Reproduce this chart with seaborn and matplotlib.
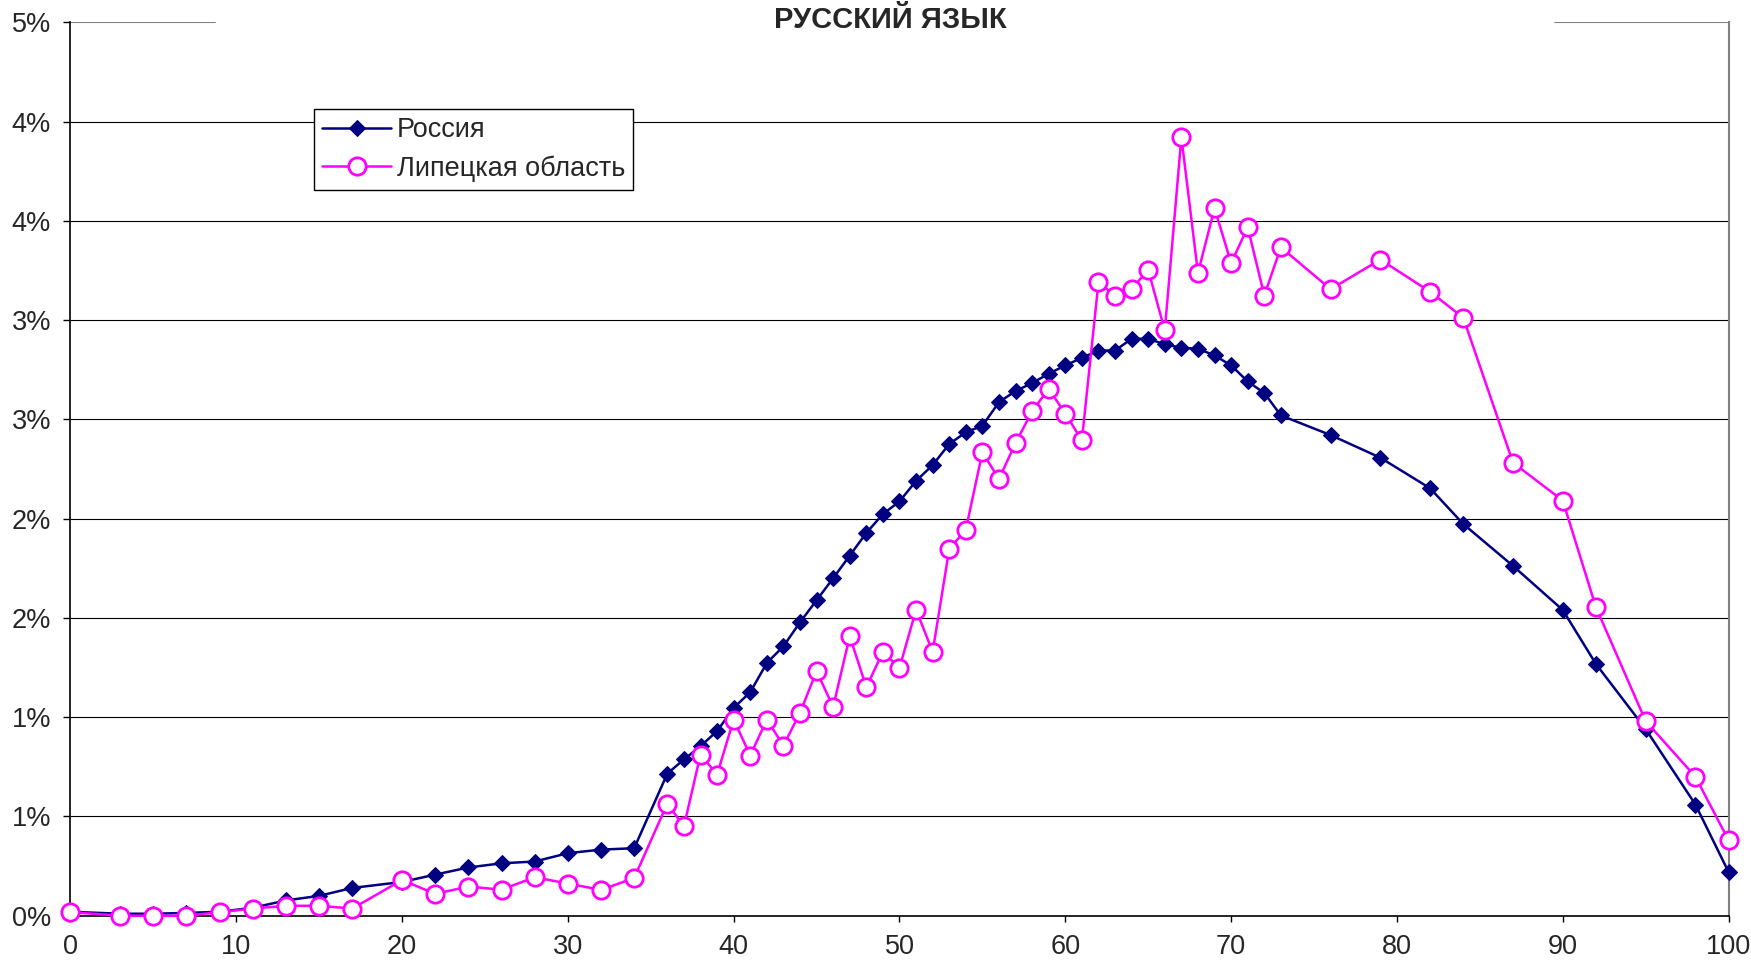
import math
import numpy as np
import pandas as pd
import matplotlib
matplotlib.use("Agg")
import matplotlib.pyplot as plt
from matplotlib.ticker import FuncFormatter
import seaborn as sns

# data: score (x) and share of participants, %
russia_x = [0, 3, 5, 7, 9, 11, 13, 15, 17, 20, 22, 24, 26, 28, 30, 32, 34,
            36, 37, 38, 39, 40, 41, 42, 43, 44, 45, 46, 47, 48, 49, 50,
            51, 52, 53, 54, 55, 56, 57, 58, 59, 60, 61, 62, 63, 64, 65,
            66, 67, 68, 69, 70, 71, 72, 73, 76, 79, 82, 84, 87, 90, 92,
            95, 98, 100]
russia_y = [0.02, 0.01, 0.01, 0.014, 0.02, 0.04, 0.077, 0.10, 0.14, 0.17, 0.207,
            0.243, 0.264, 0.273, 0.315, 0.333, 0.34,
            0.716, 0.787, 0.854, 0.93, 1.047, 1.126, 1.273, 1.357, 1.478, 1.589,
            1.70, 1.814, 1.928, 2.023, 2.087, 2.19, 2.27, 2.376, 2.435, 2.468,
            2.587, 2.643, 2.683, 2.73, 2.772, 2.81, 2.847, 2.847, 2.906, 2.906,
            2.878, 2.861, 2.856, 2.822, 2.772, 2.691, 2.633, 2.52, 2.421, 2.307,
            2.153, 1.973, 1.762, 1.54, 1.268, 0.94, 0.56, 0.22]

lipetsk_x = russia_x
lipetsk_y = [0.018, 0.0, 0.0, 0.0, 0.018, 0.036, 0.05, 0.05, 0.036, 0.18, 0.11,
             0.147, 0.131, 0.194, 0.162, 0.13, 0.19,
             0.565, 0.45, 0.812, 0.711, 0.988, 0.807, 0.988, 0.857, 1.022, 1.232,
             1.052, 1.408, 1.151, 1.329, 1.248, 1.542, 1.329, 1.847, 1.945, 2.334,
             2.20, 2.381, 2.542, 2.654, 2.529, 2.395, 3.19, 3.124, 3.158, 3.253,
             2.948, 3.921, 3.238, 3.564, 3.287, 3.468, 3.124, 3.367, 3.156, 3.305,
             3.143, 3.012, 2.282, 2.091, 1.554, 0.98, 0.70, 0.38]

x_ticks = [0, 10, 20, 30, 40, 50, 60, 70, 80, 90, 100]
y_ticks = [0, 0.5, 1.0, 1.5, 2.0, 2.5, 3.0, 3.5, 4.0, 4.5]

title = "РУССКИЙ ЯЗЫК"
label_russia = "Россия"
label_lipetsk = "Липецкая область"

df_r = pd.DataFrame({"x": russia_x, "y": russia_y})
df_l = pd.DataFrame({"x": lipetsk_x, "y": lipetsk_y})

sns.set_theme(style="white")
plt.rcParams["font.family"] = ["Liberation Sans", "DejaVu Sans"]

fig = plt.figure(figsize=(17.51, 9.63), dpi=100)
ax = fig.add_axes([0.0402, 0.0491, 0.9470, 0.9277])

# gridlines (top one is drawn separately, with a gap)
ax.hlines(y_ticks[1:-1], 0, 100, color="black", lw=0.8, zorder=0)
ax.axhline(4.5, xmin=0, xmax=0.0875, color="#808080", lw=1.5, zorder=0)
ax.axhline(4.5, xmin=0.8956, xmax=1, color="#808080", lw=1.5, zorder=0)

sns.lineplot(data=df_r, x="x", y="y", ax=ax, color="#000080", lw=1.8,
             marker="D", markersize=8.5, markeredgecolor="#000080",
             markerfacecolor="#000080", label=label_russia, clip_on=False,
             zorder=3)
sns.lineplot(data=df_l, x="x", y="y", ax=ax, color="#FF00FF", lw=1.8,
             marker="o", markersize=12.5, markeredgewidth=2.0,
             markeredgecolor="#FF00FF", markerfacecolor="white",
             label=label_lipetsk, clip_on=False, zorder=4)

ax.set_xlim(0, 100)
ax.set_ylim(0, 4.5)
ax.set_xticks(x_ticks)
ax.set_yticks(y_ticks)
ax.yaxis.set_major_formatter(FuncFormatter(lambda v, p: f"{math.floor(v + 0.5 + 1e-9)}%"))
ax.set_xlabel("")
ax.set_ylabel("")
ax.tick_params(axis="x", direction="out", length=4, width=1, color="black",
               pad=9, labelsize=19.5, bottom=True)
ax.tick_params(axis="y", direction="out", length=5, width=1, color="black",
               pad=9, labelsize=19.5, left=True)

for s in ["left", "bottom"]:
    ax.spines[s].set_color("black")
    ax.spines[s].set_linewidth(1.2)
ax.spines["top"].set_visible(False)
ax.spines["right"].set_color("#808080")
ax.spines["right"].set_linewidth(1.5)

leg = ax.legend(loc="upper left", bbox_to_anchor=(0.147, 0.903), borderaxespad=0,
                fontsize=19.5, frameon=True, fancybox=False, framealpha=1,
                edgecolor="black", handlelength=2.55, handletextpad=0.2,
                borderpad=0.3, labelspacing=0.45, numpoints=1)
leg.get_frame().set_linewidth(1.0)

fig.text(890 / 1751, 1 - 20 / 963, title, ha="center", va="center",
         fontsize=21, fontweight="bold")

fig.savefig("out.png", dpi=100, facecolor="white")
